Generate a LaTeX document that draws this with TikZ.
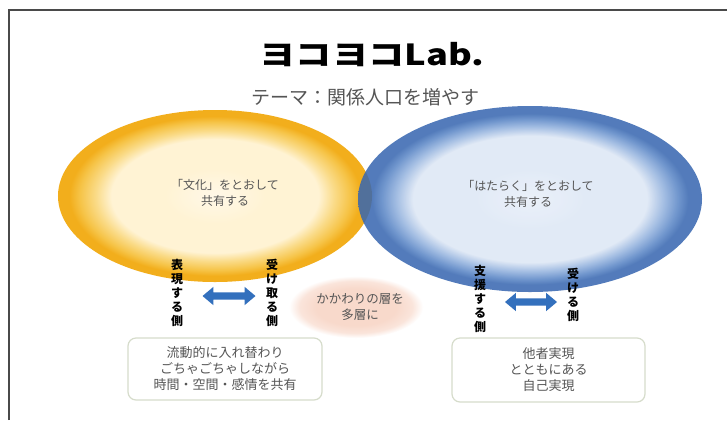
\documentclass[tikz,border=0pt]{standalone}
\usepackage{fontspec}
\setmainfont{Noto Sans CJK JP}
\newfontfamily\jp{Noto Sans CJK JP}
\usetikzlibrary{shapes.arrows,shapes.geometric}
\definecolor{yA}{HTML}{F2AE1C}
\definecolor{yB}{HTML}{F6C448}
\definecolor{yC}{HTML}{FADB88}
\definecolor{yD}{HTML}{FFF3D4}
\definecolor{yE}{HTML}{FFF8E8}
\definecolor{bA}{HTML}{3766B0}
\definecolor{bB}{HTML}{5A86C6}
\definecolor{bC}{HTML}{93B2DE}
\definecolor{bD}{HTML}{DDE7F5}
\definecolor{bE}{HTML}{E8EFF9}
\definecolor{pA}{HTML}{F8D9CB}
\definecolor{frameC}{HTML}{4A4A4A}
\definecolor{txtC}{HTML}{555555}
\definecolor{boxC}{HTML}{D6DCCB}
\definecolor{arrC}{HTML}{3370BD}
\pgfdeclareradialshading{yelshade}{\pgfpoint{0bp}{0bp}}{color(0bp)=(yE); color(8bp)=(yD); color(16.5bp)=(yD); color(19bp)=(yC); color(21.5bp)=(yB); color(23.2bp)=(yA); color(25bp)=(yA); color(50bp)=(yA)}
\pgfdeclareradialshading{blushade}{\pgfpoint{0bp}{0bp}}{color(0bp)=(bE); color(8bp)=(bD); color(17bp)=(bD); color(19.5bp)=(bC); color(21.5bp)=(bB); color(23bp)=(bA); color(25bp)=(bA); color(50bp)=(bA)}
\pgfdeclareradialshading{peachshade}{\pgfpoint{0bp}{0bp}}{color(0bp)=(pA); color(15bp)=(pA); color(21bp)=(pA!70!white); color(25bp)=(white); color(50bp)=(white)}
\tikzset{
  frameline/.style={draw=frameC, line width=1.3bp},
  oval/.style={ellipse, inner sep=0pt},
  midtext/.style={font=\fontsize{12bp}{16bp}\selectfont, text=txtC, align=center},
  vlab/.style={font=\fontsize{12bp}{14bp}\selectfont\bfseries, text=black, align=center, inner sep=0pt},
  dblarrow/.style={double arrow, fill=arrC, draw=none, inner sep=0pt, inner ysep=3.5bp,
    double arrow head extend=5.5bp, double arrow tip angle=80, minimum height=53bp},
  sharebox/.style={draw=boxC, line width=1.2bp, fill=white, rounded corners=8bp,
    font=\fontsize{13bp}{16bp}\selectfont, text=txtC, align=center, inner sep=0pt}
}
\begin{document}
\begin{tikzpicture}[x=1bp,y=-1bp]
\useasboundingbox (0,0) rectangle (727,420);
\fill[white] (0,0) rectangle (727,420);
\coordinate (fbl) at (9,420);
\coordinate (ftl) at (9,10);
\coordinate (ftr) at (727,10);
\draw[frameline] (fbl) -- (ftl) -- (ftr);
% title
\node[font=\fontsize{29bp}{32bp}\selectfont\bfseries, xscale=1.25, transform shape, inner sep=0pt] (title) at (372,55) {ヨコヨコLab.};
\node[font=\fontsize{19bp}{22bp}\selectfont, text=txtC, inner sep=0pt] (subtitle) at (365,97) {テーマ：関係人口を増やす};
% ellipses
\node[oval, minimum width=314bp, minimum height=172bp, shading=yelshade] (culture) at (215,196) {};
\node[oval, minimum width=344bp, minimum height=186bp, shading=blushade, fill opacity=0.86] (work) at (530,199) {};
\node[midtext] (culturetxt) at (225,193) {「文化」をとおして\\共有する};
\node[midtext] (worktxt) at (528,194) {「はたらく」をとおして\\共有する};
% peach
\node[oval, minimum width=134bp, minimum height=62bp, shading=peachshade] (layer) at (356,307) {};
\node[midtext, font=\fontsize{12.5bp}{16bp}\selectfont] (layertxt) at (360,307) {かかわりの層を\\多層に};
% vertical labels
\node[vlab] (express) at (177,293) {表\\現\\す\\る\\側};
\node[vlab] (receive) at (272,293) {受\\け\\取\\る\\側};
\node[vlab] (support) at (480,299) {支\\援\\す\\る\\側};
\node[vlab] (receive2) at (573,295) {受\\け\\る\\側};
% arrows
\node[dblarrow] (arrL) at (229,296) {};
\node[dblarrow, minimum height=52bp] (arrR) at (531,302) {};
% boxes
\node[sharebox, minimum width=194bp, minimum height=62bp] (boxL) at (225,369) {流動的に入れ替わり\\ごちゃごちゃしながら\\時間・空間・感情を共有};
\node[sharebox, minimum width=193bp, minimum height=64bp] (boxR) at (548.5,370) {他者実現\\とともにある\\自己実現};
\end{tikzpicture}
\end{document}
